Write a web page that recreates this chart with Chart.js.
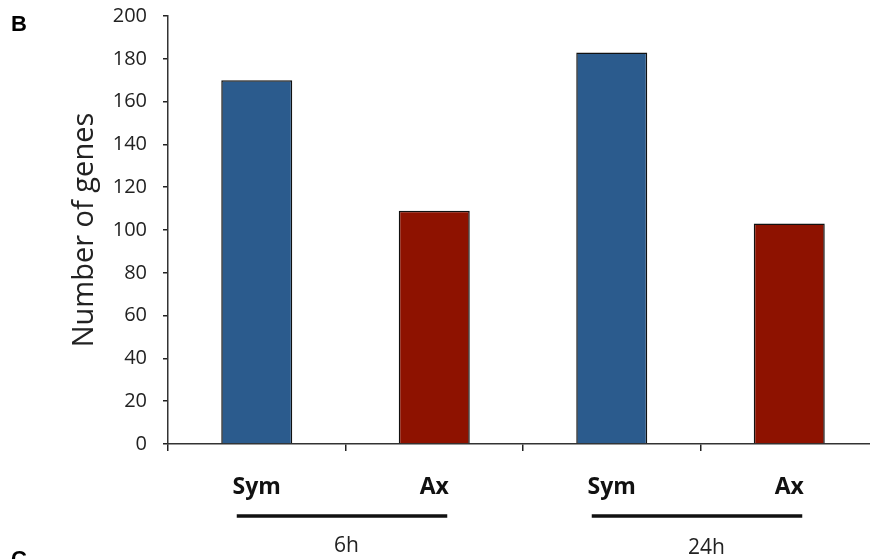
<!DOCTYPE html>
<html>
<head>
<meta charset="utf-8">
<script src="https://cdn.jsdelivr.net/npm/chart.js@4.4.1/dist/chart.umd.min.js"></script>
<style>
  html, body { margin: 0; padding: 0; background: #fff; overflow: hidden; width: 870px; height: 559px; }
  #wrap { position: relative; width: 890px; height: 559px; }
</style>
</head>
<body>
<div id="wrap"><canvas id="c" width="890" height="559"></canvas></div>
<script>
// ---- data ----
const categories = ['Sym', 'Ax', 'Sym', 'Ax'];
const geneCounts = [170, 109, 183, 103];
const groupLabels = ['6h', '24h'];
const groupMembers = [[0, 1], [2, 3]];
const yAxisTitle = 'Number of genes';
const panelLetters = ['B', 'C'];
const yMin = 0, yMax = 200, yStep = 20;

// ---- styles ----
const BLUE = '#2b5b8d';
const RED = '#8e1200';
const barColors = categories.map(c => c === 'Sym' ? BLUE : RED);
const FONT = "'Open Sans', 'Liberation Sans', sans-serif";

const groupPlugin = {
  id: 'groups',
  afterDraw(chart) {
    const ctx = chart.ctx;
    const x = chart.scales.x;
    ctx.save();
    groupMembers.forEach((m, i) => {
      const c0 = x.getPixelForValue(m[0]);
      const c1 = x.getPixelForValue(m[1]);
      ctx.strokeStyle = '#111';
      ctx.lineWidth = 3.5;
      ctx.beginPath();
      ctx.moveTo(c0 - 20, 516);
      ctx.lineTo(c1 + 13, 516);
      ctx.stroke();
      ctx.fillStyle = '#222';
      ctx.font = "21px " + FONT;
      ctx.textAlign = 'center';
      ctx.textBaseline = 'middle';
      ctx.fillText(groupLabels[i], (c0 + c1) / 2 + (i === 0 ? 1 : 6), 546 + i * 2);
    });
    ctx.fillStyle = '#000';
    ctx.font = "bold 22px 'Liberation Sans', Arial, sans-serif";
    ctx.textAlign = 'left';
    ctx.textBaseline = 'alphabetic';
    ctx.fillText(panelLetters[0], 11, 31);
    ctx.fillText(panelLetters[1], 11, 566);
    ctx.restore();
  }
};

new Chart(document.getElementById('c'), {
  type: 'bar',
  data: {
    labels: categories,
    datasets: [{
      data: geneCounts,
      backgroundColor: barColors,
      borderColor: '#111',
      borderWidth: 1.5,
      barPercentage: 0.4,
      categoryPercentage: 1.0
    }]
  },
  options: {
    responsive: false,
    animation: false,
    devicePixelRatio: 1,
    layout: { padding: { top: 16, right: 12, left: 0, bottom: 0 } },
    plugins: { legend: { display: false }, tooltip: { enabled: false } },
    scales: {
      x: {
        afterFit(s) { s.height = 115; s.paddingLeft = 0; s.paddingRight = 0; },
        grid: { display: true, offset: true, drawOnChartArea: false, drawTicks: true, tickLength: 7, color: '#222', lineWidth: 1.5 },
        border: { display: true, color: '#333', width: 1.5 },
        ticks: { color: '#111', padding: 23, font: { family: FONT, size: 23, weight: 'bold' } }
      },
      y: {
        min: yMin, max: yMax,
        afterFit(s) { s.width = 168; s.paddingTop = 0; s.paddingBottom = 0; },
        grid: { display: true, drawOnChartArea: false, drawTicks: true, tickLength: 5, color: '#222', lineWidth: 1.5 },
        border: { display: true, color: '#333', width: 1.5 },
        ticks: { stepSize: yStep, color: '#222', padding: 16, font: { family: FONT, size: 20 } },
        title: { display: true, text: yAxisTitle, color: '#222', padding: { top: 67, bottom: 0 }, font: { family: FONT, size: 29 } }
      }
    }
  },
  plugins: [groupPlugin]
});
</script>
</body>
</html>
